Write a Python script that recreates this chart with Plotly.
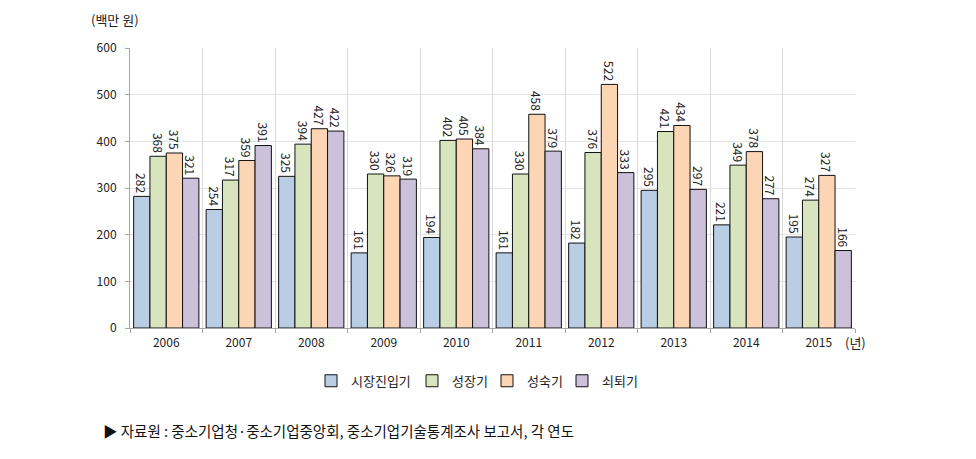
import plotly.graph_objects as go

years = ["2006", "2007", "2008", "2009", "2010", "2011", "2012", "2013", "2014", "2015"]
entry = [282, 254, 325, 161, 194, 161, 182, 295, 221, 195]
growth = [368, 317, 394, 330, 402, 330, 376, 421, 349, 274]
mature = [375, 359, 427, 326, 405, 458, 522, 434, 378, 327]
decline = [321, 391, 422, 319, 384, 379, 333, 297, 277, 166]

series = [
    ("시장진입기", entry, "#B9CDE5"),
    ("성장기", growth, "#D7E4BD"),
    ("성숙기", mature, "#FCD5B5"),
    ("쇠퇴기", decline, "#CCC1DA"),
]

FONT = "Noto Sans CJK KR"
L, R, T, B = 130, 121, 48, 131
PW = 976 - L - R
legend_px = [311, 412, 487, 562]
legend_ids = ["legend", "legend2", "legend3", "legend4"]

fig = go.Figure()
for (name, vals, col), lid in zip(series, legend_ids):
    fig.add_trace(go.Bar(
        x=years, y=vals, name=name, legend=lid,
        marker=dict(color=col, line=dict(color="#111111", width=1)),
        text=["\u00a0" + str(v) for v in vals], textposition="outside", textangle=90,
        textfont=dict(size=12, color="#222222", family=FONT),
        constraintext="none", cliponaxis=False,
    ))

layout_legends = {}
for lid, px in zip(legend_ids, legend_px):
    layout_legends[lid] = dict(
        orientation="h", x=(px - L) / PW, xanchor="left", y=-0.135, yanchor="top",
        font=dict(size=13, family=FONT, color="#222222"), itemwidth=30,
        bgcolor="rgba(0,0,0,0)")

fig.update_layout(
    width=976, height=459,
    margin=dict(l=L, r=R, t=T, b=B),
    paper_bgcolor="white", plot_bgcolor="white",
    barmode="group", bargap=0.1, bargroupgap=0,
    font=dict(family=FONT, size=12, color="#222222"),
    showlegend=True,
    xaxis=dict(tickson="boundaries", showgrid=True, gridcolor="#D9D9D9", gridwidth=1,
               ticks="outside", ticklen=4, tickcolor="#A6A6A6",
               showline=True, linecolor="#A6A6A6", linewidth=1,
               ticklabelstandoff=4,
               tickfont=dict(size=12, family=FONT, color="#222222")),
    yaxis=dict(range=[0, 600], dtick=100, showgrid=True, gridcolor="#E3E3E3", gridwidth=1,
               ticks="outside", ticklen=4, tickcolor="#A6A6A6",
               showline=True, linecolor="#A6A6A6", linewidth=1, zeroline=False,
               ticklabelstandoff=6,
               tickfont=dict(size=12, family=FONT, color="#222222")),
    annotations=[
        dict(text="(백만 원)", xref="paper", yref="paper", x=-0.057, y=1.06,
             xanchor="left", yanchor="bottom", showarrow=False,
             font=dict(size=13, family=FONT, color="#222222")),
        dict(text="(년)", xref="paper", yref="paper", x=0.984, y=-0.01,
             xanchor="left", yanchor="top", showarrow=False,
             font=dict(size=13, family=FONT, color="#222222")),
        dict(text="▶ 자료원 : 중소기업청·중소기업중앙회, 중소기업기술통계조사 보고서, 각 연도",
             xref="paper", yref="paper", x=-0.04, y=-0.32,
             xanchor="left", yanchor="top", showarrow=False,
             font=dict(size=14.5, family=FONT, color="#111111")),
    ],
    **layout_legends,
)

fig.write_html("out.html")
